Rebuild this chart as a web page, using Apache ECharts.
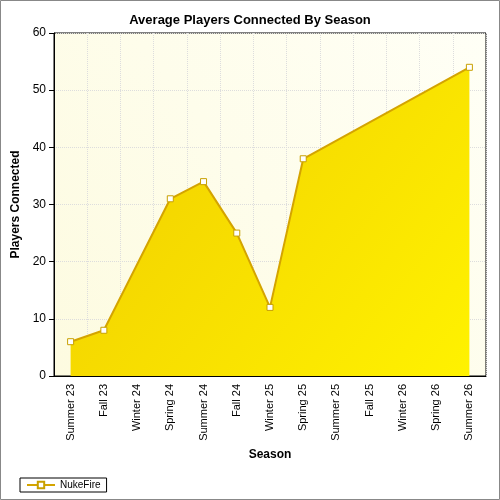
<!DOCTYPE html>
<html><head><meta charset="utf-8">
<script src="https://cdn.jsdelivr.net/npm/echarts@6/dist/echarts.min.js"></script>
<style>html,body{margin:0;padding:0;background:#fff}#c{width:500px;height:500px;}</style>
</head><body><div id="c"></div>
<script>
const categories=["Summer 23","Fall 23","Winter 24","Spring 24","Summer 24","Fall 24","Winter 25","Spring 25","Summer 25","Fall 25","Winter 26","Spring 26","Summer 26"];
const nukeFire=[6,8,null,31,34,25,12,38,null,null,null,null,54];
const yTicks={min:0,max:60,interval:10};
const chart=echarts.init(document.getElementById('c'));
chart.setOption({
  backgroundColor:'#fff',
  graphic:[{type:'rect',shape:{x:0.5,y:0.5,width:499,height:499},style:{fill:'none',stroke:'#888',lineWidth:1},silent:true}],
  title:{text:'Average Players Connected By Season',left:'center',top:9,textStyle:{fontFamily:'Liberation Sans',fontSize:13,fontWeight:'bold',color:'#000'}},
  grid:{left:54,right:14,top:33,bottom:124,show:true,borderColor:'#000',borderWidth:1,
    backgroundColor:new echarts.graphic.LinearGradient(0,1,1,0,[{offset:0,color:'#fdfbe0'},{offset:1,color:'#fffff6'}])},
  legend:{left:20,bottom:8,itemWidth:28,itemHeight:8,borderColor:'#000',borderWidth:1,padding:[2,6],
    textStyle:{fontFamily:'Liberation Sans',fontSize:10,color:'#000'},data:['NukeFire']},
  xAxis:{type:'category',data:categories,boundaryGap:true,name:'Season',nameLocation:'middle',nameGap:70,
    nameTextStyle:{fontFamily:'Liberation Sans',fontWeight:'bold',fontSize:12,color:'#000'},
    axisLine:{lineStyle:{color:'#000'}},axisTick:{alignWithLabel:true,lineStyle:{color:'#000'}},
    axisLabel:{rotate:90,interval:0,fontFamily:'Liberation Sans',fontSize:11,color:'#000'},
    splitLine:{show:true,lineStyle:{color:'#ddd',type:'dotted'}}},
  yAxis:{type:'value',min:yTicks.min,max:yTicks.max,interval:yTicks.interval,name:'Players Connected',nameLocation:'middle',nameGap:32,
    nameTextStyle:{fontFamily:'Liberation Sans',fontWeight:'bold',fontSize:12,color:'#000'},
    axisLine:{show:true,lineStyle:{color:'#000'}},axisTick:{show:true,lineStyle:{color:'#000'}},
    axisLabel:{fontFamily:'Liberation Sans',fontSize:12,color:'#000'},
    splitLine:{lineStyle:{color:'#ddd',type:'dotted'}}},
  series:[{name:'NukeFire',type:'line',data:nukeFire,connectNulls:true,symbol:'rect',symbolSize:6,
    itemStyle:{color:'#fff',borderColor:'#c8a000',borderWidth:1},
    lineStyle:{color:'#d4a400',width:2},
    areaStyle:{opacity:1,color:new echarts.graphic.LinearGradient(0,0,1,1,[{offset:0,color:'#f0cc00'},{offset:1,color:'#fff200'}])}}]
});
</script></body></html>
